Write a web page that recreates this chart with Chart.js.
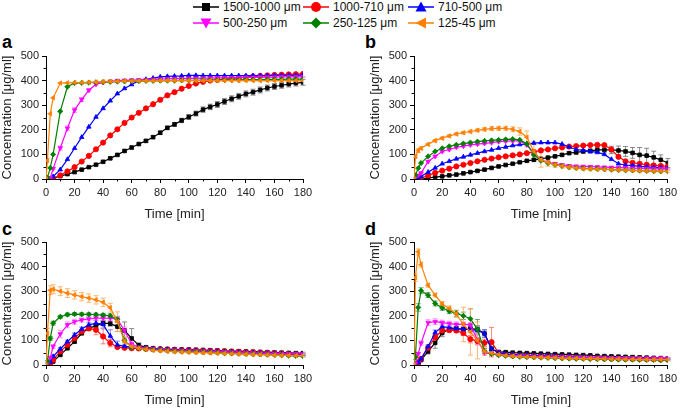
<!DOCTYPE html>
<html><head><meta charset="utf-8">
<script src="https://cdn.jsdelivr.net/npm/chart.js@4.4.0/dist/chart.umd.min.js"></script>
<style>
html,body{margin:0;padding:0;width:680px;height:408px;overflow:hidden;background:#fff;font-family:"Liberation Sans",Arial,sans-serif;}
canvas{position:absolute;}
.lbl{position:absolute;font:bold 18px "Liberation Sans",Arial,sans-serif;color:#000;line-height:18px;}
.leg{position:absolute;font-size:12px;color:#111;white-space:nowrap;line-height:14px;}
svg{position:absolute;}
</style></head><body>
<div class="lbl" style="left:2px;top:33px">a</div>
<div class="lbl" style="left:365px;top:33px">b</div>
<div class="lbl" style="left:2px;top:220px">c</div>
<div class="lbl" style="left:365px;top:220px">d</div>
<canvas id="ca" width="340" height="182" style="left:0;top:40px"></canvas>
<canvas id="cb" width="312" height="182" style="left:368px;top:40px"></canvas>
<canvas id="cc" width="340" height="182" style="left:0;top:226px"></canvas>
<canvas id="cd" width="312" height="182" style="left:368px;top:226px"></canvas>
<div id="legend"></div>
<script>
// ---- data ----
const times = [0,1,3,5,10,15,20,25,30,35,40,45,50,55,60,65,70,75,80,85,90,95,100,105,110,115,120,125,130,135,140,145,150,155,160,165,170,175,180];
const seriesLabels = ['1500-1000 μm','1000-710 μm','710-500 μm','500-250 μm','250-125 μm','125-45 μm'];
const xTicks = [0,20,40,60,80,100,120,140,160,180];
const xMinor = [10,30,50,70,90,110,130,150,170];
const yTicks = [0,100,200,300,400,500];
const yMinor = [50,150,250,350,450];

// panel a
const a1500 = [0,0,0,2,12,20,28,38,48,58,70,84,98,114,128,142,155,170,188,208,222,238,252,266,282,293,303,315,326,336,346,353,362,370,376,381,386,390,393];
const a1000 = [0,0,0,3,15,31,48,71,94,121,148,177,202,228,250,269,287,304,322,340,353,367,378,388,395,400,403,406,409,411,414,417,419,421,423,424,425,426,427];
const a710  = [0,0,2,10,38,80,125,170,212,252,287,318,347,368,384,400,405,410,415,417,418,419,421,421,420,420,420,420,420,420,420,420,420,420,421,421,421,421,422];
const a500  = [0,0,5,42,126,206,280,323,361,385,393,397,400,401,402,403,404,405,406,407,408,408,409,409,410,410,411,411,412,412,413,413,414,414,414,415,415,415,415];
const a250  = [0,5,45,100,275,375,390,391,392,393,394,395,396,397,398,398,399,399,400,400,400,401,401,401,402,402,402,403,403,403,404,404,404,405,405,405,406,406,406];
const a125  = [0,75,265,330,390,391,392,392,393,394,395,396,397,398,398,399,399,399,400,400,400,400,400,400,400,400,400,400,400,400,400,400,400,400,400,400,400,400,400];
const a1500err = [0,0,0,1,2,2,3,3,3,3,4,4,4,5,5,5,6,6,7,7,8,9,10,10,11,11,12,12,12,12,12,12,12,12,12,12,12,12,12];
const a500err  = [0,0,2,4,8,10,10,8,6,4,3,3,2,2,2,2,2,2,2,2,2,2,2,2,2,2,2,2,2,2,2,2,2,2,2,2,2,2,2];

// panel b
const b1500 = [0,0,0,1,4,8,11,15,18,23,28,33,38,45,51,57,62,68,74,78,82,87,92,98,105,108,112,114,118,118,118,116,112,106,98,95,88,78,65];
const b1000 = [0,0,0,3,15,25,34,42,51,58,65,72,78,83,88,92,96,100,105,110,116,120,125,128,132,134,136,138,139,138,120,90,72,66,62,58,55,53,51];
const b710  = [0,0,3,10,28,45,62,72,82,90,98,105,112,118,125,130,136,140,143,146,148,148,148,142,130,120,116,112,108,100,80,62,57,54,51,49,47,45,44];
const b500  = [0,5,15,24,71,92,112,120,129,134,139,142,145,148,152,154,155,155,139,105,78,68,62,58,54,52,51,50,49,48,47,46,45,44,43,42,41,41,40];
const b250  = [0,15,44,65,92,112,125,133,139,144,148,152,155,157,159,161,162,159,143,98,75,65,58,53,48,45,43,42,41,40,38,37,36,35,34,33,32,31,31];
const b125  = [0,92,116,125,141,156,166,175,183,188,193,198,202,205,206,206,202,193,170,112,78,67,58,53,48,45,42,41,40,39,38,37,36,35,34,33,32,32,31];
const b1500err = [0,0,0,1,1,1,2,2,2,2,2,3,3,3,3,3,3,3,3,4,4,4,4,5,5,6,6,8,10,12,15,18,20,22,30,30,25,20,18];
const b500err  = [0,2,3,4,5,5,5,5,5,5,5,5,5,5,5,5,5,6,8,10,8,5,4,4,3,3,3,3,3,3,3,3,3,3,3,3,3,3,3];
const b125err  = [0,5,8,6,5,5,5,5,5,5,6,6,7,8,8,8,10,15,25,40,30,15,10,8,6,5,5,5,5,5,5,5,5,5,5,5,5,5,5];

// panel c
const c1500 = [0,0,5,14,41,68,95,129,149,160,170,168,156,140,108,80,72,68,66,65,64,63,63,62,61,60,59,58,57,56,55,54,53,52,51,50,49,48,48];
const c1000 = [0,0,8,21,55,82,109,136,149,143,116,89,73,70,68,67,66,65,64,63,62,61,60,59,58,57,56,55,54,53,52,51,50,49,48,46,45,43,42];
const c710  = [0,0,12,35,65,95,122,146,163,170,165,118,82,76,73,71,69,67,65,63,62,61,60,58,57,56,55,54,53,52,51,50,49,48,47,46,45,44,43];
const c500  = [0,5,30,75,126,163,176,183,187,190,190,190,186,140,85,72,68,65,63,61,60,59,58,57,56,55,54,53,52,51,50,49,48,47,46,46,45,45,44];
const c250  = [0,15,108,170,196,205,207,206,206,205,203,200,185,100,72,68,65,62,60,58,56,55,54,53,52,51,50,48,47,46,45,44,43,42,41,40,38,37,36];
const c125  = [0,129,304,308,300,292,285,278,272,265,255,233,176,96,75,68,64,60,58,56,54,53,52,51,50,49,48,47,46,45,44,43,42,41,40,39,39,38,38];
const c1500err = [0,0,2,3,4,5,6,6,6,6,8,10,20,35,40,10,5,4,4,4,4,4,4,4,4,4,4,4,4,4,4,4,4,4,4,4,4,4,4];
const c1000err = [0,0,2,3,4,5,6,8,10,20,30,15,6,5,4,4,3,3,3,3,3,3,3,3,3,3,3,3,3,3,3,3,3,3,3,3,3,3,3];
const c710err  = [0,0,2,3,5,6,8,8,8,10,15,25,15,6,4,3,3,3,3,3,3,3,3,3,3,3,3,3,3,3,3,3,3,3,3,3,3,3,3];
const c500err  = [0,2,5,8,15,12,10,8,8,8,8,10,12,15,8,4,3,3,3,3,3,3,3,3,3,3,3,3,3,3,3,3,3,3,3,3,3,3,3];
const c250err  = [0,3,8,8,6,6,6,6,6,6,6,8,10,10,5,4,3,3,3,3,3,3,3,3,3,3,3,3,3,3,3,3,3,3,3,3,3,3,3];
const c125err  = [0,20,18,18,18,18,17,17,17,17,17,18,40,20,8,6,5,5,5,5,5,5,5,5,5,5,5,5,5,5,5,5,5,5,5,5,5,5,5];

// panel d
const d1500 = [0,0,5,20,55,90,130,145,148,145,148,145,128,65,53,52,50,49,48,47,46,45,44,43,42,41,40,39,37,36,35,34,33,32,31,30,29,28,27];
const d1000 = [0,0,10,25,70,113,140,142,140,130,105,97,90,93,48,42,40,39,38,37,36,35,34,33,32,31,30,29,28,27,26,26,25,24,24,23,23,22,22];
const d710  = [0,0,10,25,75,132,156,152,148,145,145,140,128,65,50,45,43,42,40,39,38,37,36,35,34,33,32,31,30,29,28,28,27,27,26,26,25,25,25];
const d500  = [0,5,46,89,172,176,172,168,165,165,163,102,50,45,41,39,38,37,36,35,34,33,33,32,32,31,31,30,30,30,29,29,29,28,28,28,28,28,28];
const d250  = [0,33,234,302,284,250,232,219,210,200,188,145,57,45,40,37,35,33,32,31,30,29,28,27,26,25,25,24,24,23,23,22,22,22,21,21,21,20,20];
const d125  = [0,355,460,408,324,284,248,230,208,165,135,100,55,48,42,38,36,34,33,32,31,30,29,28,27,27,26,26,25,25,24,24,23,23,23,22,22,22,22];
const d1500err = [0,0,2,5,10,22,15,10,8,8,12,15,15,10,5,4,3,3,3,3,3,3,3,3,3,3,3,3,3,3,3,3,3,3,3,3,3,3,3];
const d1000err = [0,0,2,4,8,10,8,8,8,10,15,15,15,60,8,5,4,3,3,3,3,3,3,3,3,3,3,3,3,3,3,3,3,3,3,3,3,3,3];
const d710err  = [0,0,2,4,8,10,10,10,10,10,10,15,15,10,5,4,3,3,3,3,3,3,3,3,3,3,3,3,3,3,3,3,3,3,3,3,3,3,3];
const d500err  = [0,2,5,8,12,12,10,10,10,10,10,20,10,5,4,3,3,3,3,3,3,3,3,3,3,3,3,3,3,3,3,3,3,3,3,3,3,3,3];
const d250err  = [0,10,15,12,10,10,10,10,12,15,40,40,10,5,4,3,3,3,3,3,3,3,3,3,3,3,3,3,3,3,3,3,3,3,3,3,3,3,3];
const d125err  = [0,15,12,10,8,8,10,10,15,70,95,75,15,8,5,4,3,3,3,3,3,3,3,3,3,3,3,3,3,3,3,3,3,3,3,3,3,3,3];

// ---- styles ----
const colors = ['#000000','#ff0000','#0000ff','#ff00ff','#008000','#ff8000'];
const errColors = ['rgba(110,110,110,0.8)','rgba(255,90,90,0.75)','rgba(90,90,255,0.75)','rgba(255,120,255,0.8)','rgba(70,140,70,0.75)','rgba(255,170,90,0.85)'];
const pStyles = ['rect','circle','triangle','triangle','rectRot','triangle'];
const pRot = [0,0,0,180,0,270];

const FONT = '"Liberation Sans", Arial, sans-serif';

const minorTicks = {
  id:'minorTicks',
  afterDraw(chart){
    const {ctx, scales:{x,y}} = chart;
    ctx.save(); ctx.strokeStyle='#000'; ctx.lineWidth=1;
    ctx.beginPath();
    xMinor.forEach(v=>{const px=Math.round(x.getPixelForValue(v))+0.5; ctx.moveTo(px,y.bottom); ctx.lineTo(px,y.bottom+2.5);});
    yMinor.forEach(v=>{const py=Math.round(y.getPixelForValue(v))+0.5; ctx.moveTo(x.left,py); ctx.lineTo(x.left-2.5,py);});
    ctx.stroke(); ctx.restore();
  }
};
const errorBars = {
  id:'errorBars',
  beforeDatasetsDraw(chart){
    const {ctx, scales:{x,y}} = chart;
    chart.data.datasets.forEach(ds=>{
      if(!ds.err) return;
      ctx.save(); ctx.strokeStyle=ds.errColor; ctx.lineWidth=1;
      ctx.beginPath();
      ds.data.forEach((p,i)=>{
        const e=ds.err[i]; if(!e) return;
        const px=x.getPixelForValue(p.x);
        const yt=y.getPixelForValue(p.y+e), yb=y.getPixelForValue(p.y-e);
        ctx.moveTo(px,yt); ctx.lineTo(px,yb);
        ctx.moveTo(px-2.5,yt); ctx.lineTo(px+2.5,yt);
        ctx.moveTo(px-2.5,yb); ctx.lineTo(px+2.5,yb);
      });
      ctx.stroke(); ctx.restore();
    });
  }
};

function makePanel(id, series, errs, padRight){
  const datasets = series.map((vals,k)=>({
    label: seriesLabels[k],
    data: times.map((t,i)=>({x:t,y:vals[i]})),
    err: errs[k],
    errColor: errColors[k],
    borderColor: colors[k], backgroundColor: colors[k],
    pointStyle: pStyles[k], rotation: pRot[k],
    pointRadius: 2.6, pointBorderWidth: 0.8, borderWidth: 1.2,
    order: 5-k
  }));
  const axisCommon = {
    grid:{drawOnChartArea:false, drawTicks:true, tickLength:4, color:'#000', lineWidth:1},
    border:{display:true, color:'#000', width:1}
  };
  new Chart(document.getElementById(id), {
    type:'line',
    data:{datasets},
    options:{
      responsive:false, animation:false, devicePixelRatio:1,
      layout:{padding:{top:16,right:padRight,bottom:0,left:0}},
      plugins:{legend:{display:false}, tooltip:{enabled:false}},
      scales:{
        x:Object.assign({type:'linear', min:0, max:180,
          afterBuildTicks(s){ s.ticks = xTicks.map(v=>({value:v})); },
          ticks:{color:'#222', font:{family:FONT,size:11,weight:'normal'}, padding:3, maxRotation:0, autoSkip:false},
          title:{display:true, text:'Time [min]', color:'#222', font:{family:FONT,size:13,weight:'normal'}, padding:{top:0,bottom:0}},
          afterFit(s){ s.height=43; }}, axisCommon),
        y:Object.assign({type:'linear', min:0, max:500,
          afterBuildTicks(s){ s.ticks = yTicks.map(v=>({value:v})); },
          ticks:{color:'#222', font:{family:FONT,size:11,weight:'normal'}, padding:3},
          title:{display:true, text:'Concentration [μg/ml]', color:'#222', font:{family:FONT,size:13,weight:'normal'}, padding:{top:0,bottom:0}},
          afterFit(s){ s.width=46; }}, axisCommon)
      }
    },
    plugins:[errorBars, minorTicks]
  });
}

makePanel('ca',[a1500,a1000,a710,a500,a250,a125],[a1500err,null,null,a500err,null,null],37);
makePanel('cb',[b1500,b1000,b710,b500,b250,b125],[b1500err,null,null,b500err,null,b125err],9);
makePanel('cc',[c1500,c1000,c710,c500,c250,c125],[c1500err,c1000err,c710err,c500err,c250err,c125err],37);
makePanel('cd',[d1500,d1000,d710,d500,d250,d125],[d1500err,d1000err,d710err,d500err,d250err,d125err],9);

// ---- legend ----
const markerSvg = [
  '<rect x="9" y="2" width="8" height="8" fill="#000"/>',
  '<circle cx="13" cy="6" r="5" fill="#ff0000"/>',
  '<polygon points="13,0.5 18.5,10.5 7.5,10.5" fill="#0000ff"/>',
  '<polygon points="7.5,1.5 18.5,1.5 13,11.5" fill="#ff00ff"/>',
  '<polygon points="13,0.5 18.5,6 13,11.5 7.5,6" fill="#008000"/>',
  '<polygon points="7.5,6 18,0.5 18,11.5" fill="#ff8000"/>'
];
const legX = [193,303,408];
const legRowY = [6.5,22.5];
const legEl = document.getElementById('legend');
let html='';
seriesLabels.forEach((lab,k)=>{
  const r=Math.floor(k/3), c=k%3;
  const cy=legRowY[r];
  html += '<svg width="26" height="12" style="left:'+legX[c]+'px;top:'+(cy-6)+'px"><line x1="0" y1="6" x2="26" y2="6" stroke="'+colors[k]+'" stroke-width="1.5"/>'+markerSvg[k]+'</svg>';
  html += '<div class="leg" style="left:'+(legX[c]+30)+'px;top:'+(cy-7)+'px">'+lab+'</div>';
});
legEl.innerHTML = html;
</script>
</body></html>
